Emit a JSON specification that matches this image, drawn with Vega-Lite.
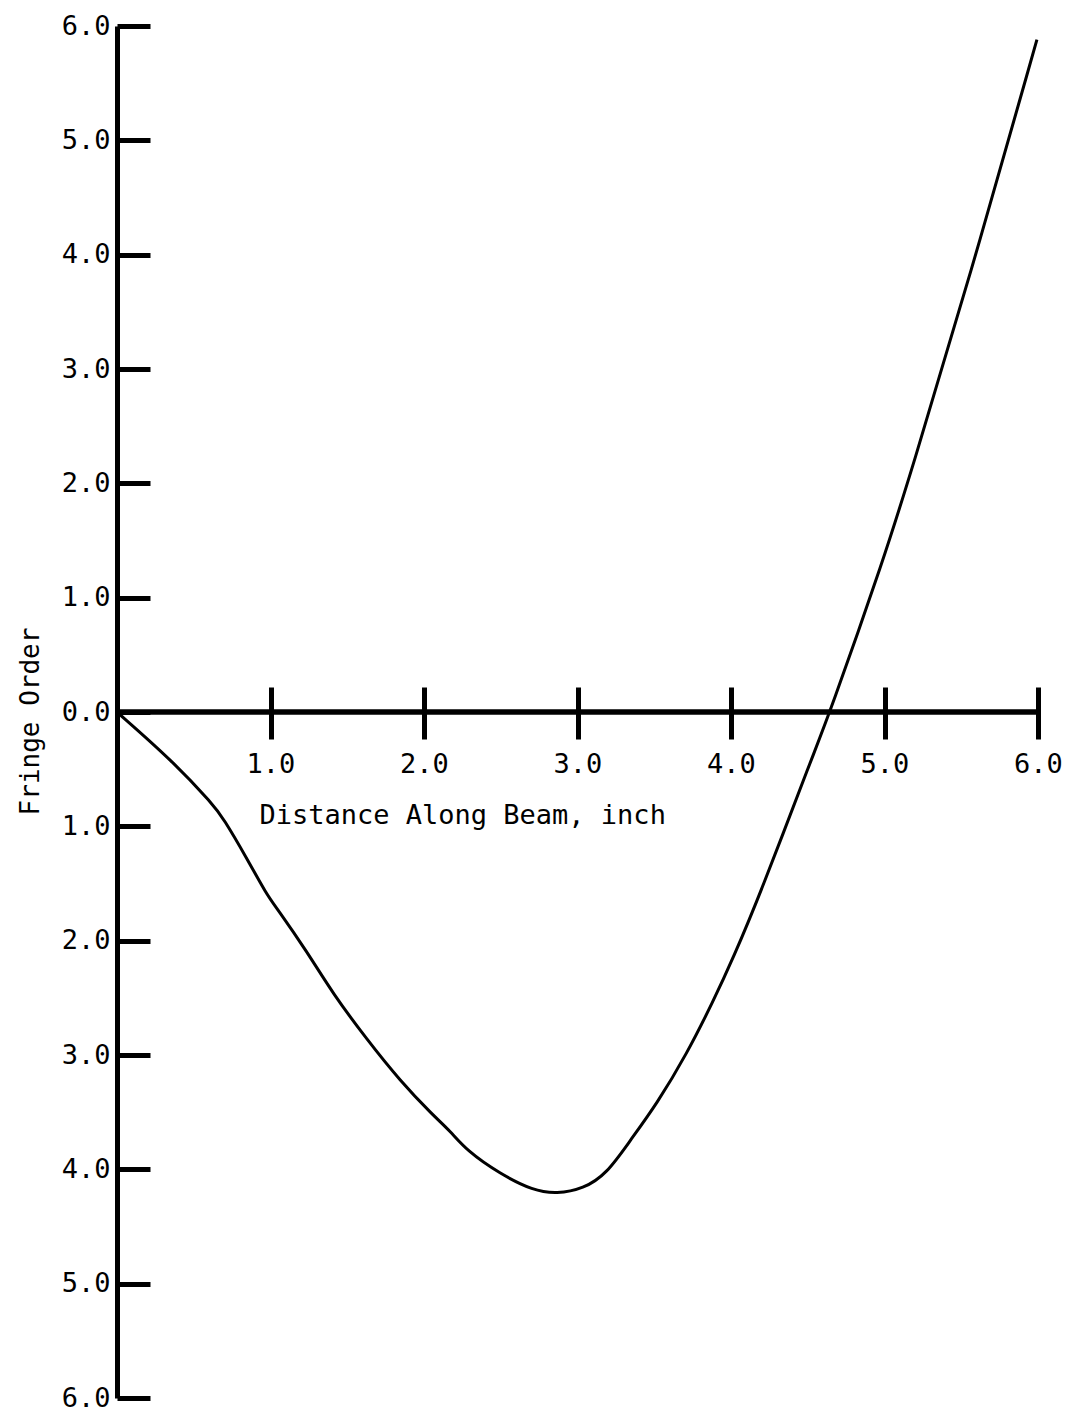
{
  "$schema": "https://vega.github.io/schema/vega-lite/v6.json",
  "width": 921,
  "height": 1372,
  "autosize": "none",
  "padding": {"left": 117, "top": 26, "right": 35, "bottom": 14},
  "background": "white",
  "config": {
    "view": {"stroke": null},
    "axis": {
      "grid": false,
      "labelFont": "DejaVu Sans Mono",
      "titleFont": "DejaVu Sans Mono",
      "labelColor": "#000",
      "titleColor": "#000",
      "titleFontWeight": "normal"
    }
  },
  "data": {
    "values": [
      {"distance": 0.0, "fringe": 0.0},
      {"distance": 0.367, "fringe": -0.434},
      {"distance": 0.627, "fringe": -0.812},
      {"distance": 0.692, "fringe": -0.928},
      {"distance": 0.845, "fringe": -1.277},
      {"distance": 0.975, "fringe": -1.597},
      {"distance": 1.04, "fringe": -1.713},
      {"distance": 1.236, "fringe": -2.092},
      {"distance": 1.409, "fringe": -2.469},
      {"distance": 1.627, "fringe": -2.862},
      {"distance": 1.844, "fringe": -3.226},
      {"distance": 2.061, "fringe": -3.531},
      {"distance": 2.169, "fringe": -3.662},
      {"distance": 2.278, "fringe": -3.837},
      {"distance": 2.495, "fringe": -4.04},
      {"distance": 2.712, "fringe": -4.186},
      {"distance": 2.864, "fringe": -4.215},
      {"distance": 3.038, "fringe": -4.171},
      {"distance": 3.19, "fringe": -4.04},
      {"distance": 3.342, "fringe": -3.75},
      {"distance": 3.516, "fringe": -3.429},
      {"distance": 3.711, "fringe": -2.993},
      {"distance": 3.885, "fringe": -2.528},
      {"distance": 4.015, "fringe": -2.149},
      {"distance": 4.189, "fringe": -1.597},
      {"distance": 4.534, "fringe": -0.375},
      {"distance": 4.638, "fringe": -0.03},
      {"distance": 5.003, "fringe": 1.37},
      {"distance": 5.166, "fringe": 2.068},
      {"distance": 5.557, "fringe": 3.813},
      {"distance": 5.993, "fringe": 5.881}
    ]
  },
  "layer": [
    {
      "mark": {"type": "line", "color": "#000", "strokeWidth": 3, "interpolate": "basis"},
      "encoding": {
        "x": {
          "field": "distance",
          "type": "quantitative",
          "scale": {"domain": [0, 6], "nice": false, "zero": false},
          "axis": {
            "orient": "bottom",
            "offset": -711,
            "values": [1, 2, 3, 4, 5, 6],
            "domain": false,
            "ticks": true,
            "tickSize": 52,
            "tickWidth": 5,
            "tickColor": "#000",
            "labelPadding": 12,
            "labelFontSize": 27,
            "labelBaseline": "top",
            "labelFlush": false,
            "labelOverlap": false,
            "format": ".1f",
            "title": "Distance Along Beam, inch",
            "titleFontSize": 27,
            "titleX": 142,
            "titleY": 136,
            "titleAlign": "left",
            "titleBaseline": "alphabetic"
          }
        },
        "y": {
          "field": "fringe",
          "type": "quantitative",
          "scale": {"domain": [-6, 6], "nice": false, "zero": false},
          "axis": {
            "orient": "left",
            "values": [-6, -5, -4, -3, -2, -1, 0, 1, 2, 3, 4, 5, 6],
            "domain": true,
            "domainColor": "#000",
            "domainWidth": 5,
            "ticks": true,
            "tickSize": -33,
            "tickWidth": 5,
            "tickColor": "#000",
            "labelPadding": 40,
            "labelFontSize": 27,
            "labelAlign": "right",
            "labelBaseline": "middle",
            "labelFlush": false,
            "labelOverlap": false,
            "labelExpr": "format(abs(datum.value), '.1f')",
            "title": "Fringe Order",
            "titleFontSize": 26,
            "titleAngle": 270,
            "titleX": -79,
            "titleY": 695,
            "titleAlign": "center",
            "titleBaseline": "alphabetic"
          }
        }
      }
    },
    {
      "data": {"values": [{}]},
      "mark": {"type": "rule", "color": "#000", "strokeWidth": 5.5},
      "encoding": {
        "x": {"datum": 0, "type": "quantitative"},
        "x2": {"datum": 6},
        "y": {"datum": 0, "type": "quantitative"}
      }
    }
  ]
}
